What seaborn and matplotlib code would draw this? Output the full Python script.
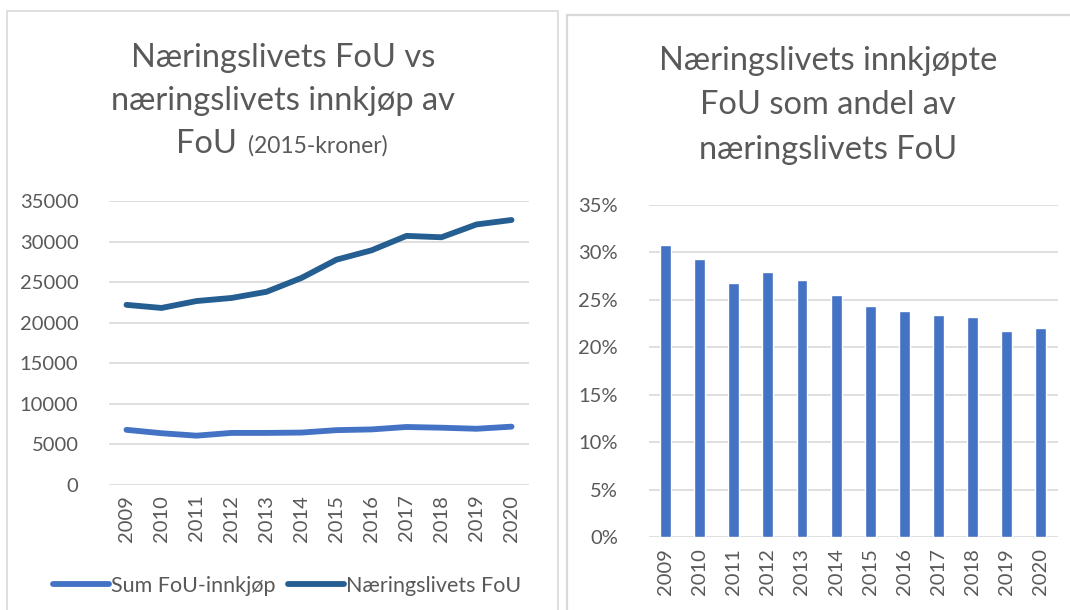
import matplotlib
matplotlib.use("Agg")
import matplotlib.pyplot as plt
from matplotlib.patches import Rectangle
from matplotlib.ticker import FuncFormatter, MultipleLocator
import seaborn as sns
import pandas as pd

years = ["2009", "2010", "2011", "2012", "2013", "2014",
         "2015", "2016", "2017", "2018", "2019", "2020"]
sum_fou_innkjop = [6800, 6380, 6080, 6420, 6420, 6460,
                   6760, 6850, 7150, 7060, 6930, 7190]
naeringslivets_fou = [22200, 21820, 22670, 23050, 23810, 25520,
                      27770, 28920, 30700, 30530, 32110, 32660]
andel = [0.3075, 0.293, 0.268, 0.2798, 0.271, 0.255,
         0.244, 0.238, 0.234, 0.232, 0.217, 0.220]

series_names = ["Sum FoU-innkjøp", "Næringslivets FoU"]
line_colors = ["#4472C4", "#255E91"]
bar_color = "#4472C4"
text_color = "#595959"
grid_color = "#D9D9D9"

sns.set_theme(style="white")
plt.rcParams["font.family"] = ["Lato", "DejaVu Sans"]
plt.rcParams["text.color"] = text_color

W, H = 1070, 610
fig = plt.figure(figsize=(W / 100, H / 100), dpi=100)

def fx(px):
    return px / W

def fy(py):
    return 1 - py / H

# panel borders
fig.patches.append(Rectangle((fx(7), fy(640)), fx(558 - 7), (640 - 11) / H,
                             transform=fig.transFigure, fill=False,
                             edgecolor="#D9D9D9", linewidth=1.2, zorder=0))
fig.patches.append(Rectangle((fx(567), fy(640)), fx(1100 - 567), (640 - 15) / H,
                             transform=fig.transFigure, fill=False,
                             edgecolor="#D9D9D9", linewidth=1.6, zorder=0))

# ---------- left: line chart ----------
ax1 = fig.add_axes([fx(109), fy(485), fx(529 - 109), (485 - 201) / H])
df = pd.DataFrame({
    "År": years * 2,
    "Verdi": sum_fou_innkjop + naeringslivets_fou,
    "Serie": [series_names[0]] * len(years) + [series_names[1]] * len(years),
})
sns.lineplot(data=df, x="År", y="Verdi", hue="Serie", hue_order=series_names,
             palette=line_colors, linewidth=4.2, ax=ax1, sort=False)
for ln in ax1.lines:
    ln.set_solid_capstyle("round")
    ln.set_solid_joinstyle("round")
ax1.set_xlim(-0.5, len(years) - 0.5)
ax1.set_ylim(0, 35000)
ax1.yaxis.set_major_locator(MultipleLocator(5000))
ax1.grid(axis="y", color=grid_color, linewidth=1.2)
ax1.set_axisbelow(True)
ax1.set_xlabel("")
ax1.set_ylabel("")
for s in ax1.spines.values():
    s.set_visible(False)
ax1.tick_params(axis="x", rotation=90, labelsize=14.5, colors=text_color, length=0, pad=7)
ax1.tick_params(axis="y", labelsize=14.5, colors=text_color, length=0, pad=22)

sns.move_legend(ax1, "center", bbox_to_anchor=(fx(287), fy(586)),
                bbox_transform=fig.transFigure, ncol=2, frameon=False, title=None,
                fontsize=15.5, handlelength=2.6, handletextpad=0.1,
                columnspacing=0.6, labelcolor=text_color)
for h in ax1.get_legend().get_lines():
    h.set_linewidth(4.2)
    h.set_solid_capstyle("round")

# ---------- right: bar chart ----------
ax2 = fig.add_axes([fx(648.6), fy(537), fx(1057.6 - 648.6), (537 - 205) / H])
dfb = pd.DataFrame({"År": years, "Andel": andel})
sns.barplot(data=dfb, x="År", y="Andel", order=years, color=bar_color,
            saturation=1, width=0.32, ax=ax2)
ax2.set_xlim(-0.5, len(years) - 0.5)
ax2.set_ylim(0, 0.35)
ax2.yaxis.set_major_locator(MultipleLocator(0.05))
ax2.yaxis.set_major_formatter(FuncFormatter(lambda v, p: f"{v*100:.0f}%"))
ax2.grid(axis="y", color=grid_color, linewidth=1.2)
ax2.set_axisbelow(True)
ax2.set_xlabel("")
ax2.set_ylabel("")
for s in ax2.spines.values():
    s.set_visible(False)
ax2.tick_params(axis="x", rotation=90, labelsize=14.5, colors=text_color, length=0, pad=8)
ax2.tick_params(axis="y", labelsize=14.5, colors=text_color, length=0, pad=22)

# ---------- titles ----------
tfs = 23.5
tkw = dict(fontsize=tfs, color=text_color, ha="center", va="baseline")
fig.text(fx(283), fy(67), "Næringslivets FoU vs", **tkw)
fig.text(fx(283), fy(110), "næringslivets innkjøp av", **tkw)

fig.canvas.draw()
r = fig.canvas.get_renderer()
t_a = fig.text(0, fy(153), "FoU", fontsize=tfs, color=text_color, ha="left",
               va="baseline")
t_b = fig.text(0, fy(153), "(2015-kroner)", fontsize=16.5, color=text_color,
               ha="left", va="baseline")
wa = t_a.get_window_extent(r).width
wb = t_b.get_window_extent(r).width
gap = 11
x0 = 282 - (wa + gap + wb) / 2
t_a.set_x(fx(x0))
t_b.set_x(fx(x0 + wa + gap))

fig.text(fx(828), fy(70), "Næringslivets innkjøpte", **tkw)
fig.text(fx(828), fy(114), "FoU som andel av", **tkw)
fig.text(fx(828), fy(159), "næringslivets FoU", **tkw)

fig.savefig("out.png", dpi=100)
